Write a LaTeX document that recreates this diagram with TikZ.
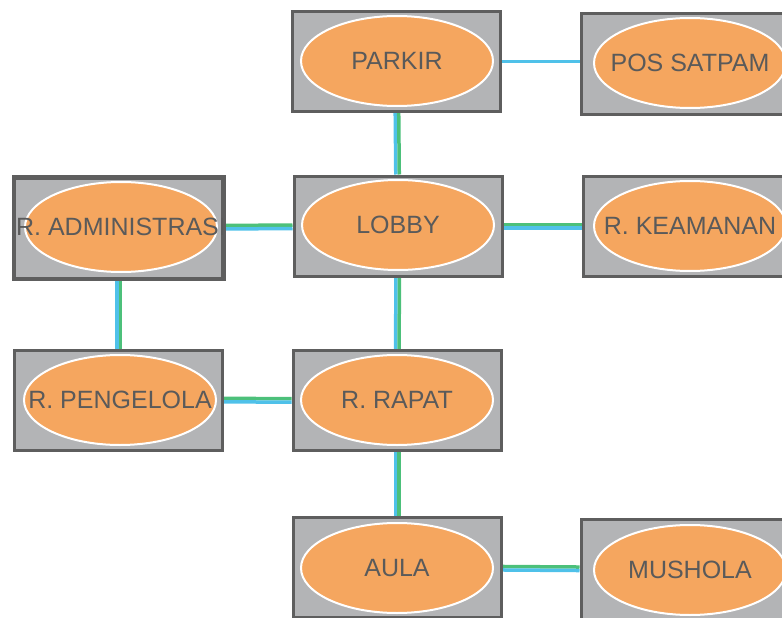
\documentclass[tikz,border=0pt]{standalone}
\usepackage{fontspec}
\setmainfont{Liberation Sans}
\usetikzlibrary{shapes.geometric,backgrounds}
\definecolor{abu}{HTML}{B3B4B6}
\definecolor{garis}{HTML}{5E5E5E}
\definecolor{oranye}{HTML}{F5A65F}
\definecolor{teks}{HTML}{5A5A5A}
\definecolor{biru}{HTML}{4FC1E9}
\definecolor{hijau}{HTML}{4CC07A}
\tikzset{
	kotak/.style={draw=garis, fill=abu, line width=3pt, minimum width=208pt, minimum height=100pt, inner sep=0pt},
	ruang/.style={ellipse, draw=white, fill=oranye, line width=2pt, minimum width=192pt, minimum height=90pt, inner sep=0pt, text=teks, font=\fontsize{25}{30}\selectfont,
		execute at begin node={\hbox to 0pt\bgroup\hss}, execute at end node={\hss\egroup}},
	kabel/.style={line width=3.5pt},
}
% sambungan ganda: hijau + biru
\newcommand{\jalurH}[2]{%
	\draw[kabel, hijau, transform canvas={yshift=1.75pt}] (#1) -- (#2);
	\draw[kabel, biru, transform canvas={yshift=-1.75pt}] (#1) -- (#2);}
\newcommand{\jalurV}[2]{%
	\draw[kabel, biru, transform canvas={xshift=-1.75pt}] (#1) -- (#2);
	\draw[kabel, hijau, transform canvas={xshift=1.75pt}] (#1) -- (#2);}
\begin{document}
\begin{tikzpicture}[x=1pt, y=1pt]
	\clip (0,0) rectangle (782,-618);

	% kotak ruang
	\node[kotak] (parkir) at (396.5,-61.5) {};
	\node[kotak] (satpam) at (685,-64) {};
	\node[kotak] (admin) at (118.5,-228) {};
	\node[kotak] (lobby) at (398,-226) {};
	\node[kotak] (keamanan) at (687,-226) {};
	\node[kotak] (pengelola) at (118.5,-400) {};
	\node[kotak] (rapat) at (397,-400.5) {};
	\node[kotak] (aula) at (397,-567.5) {};
	\node[kotak] (mushola) at (685,-569.5) {};

	% nama ruang
	\node[ruang] (parkirE) at (397,-61) {PARKIR};
	\node[ruang] (satpamE) at (690,-63) {POS SATPAM};
	\node[ruang] (adminE) at (121,-227) {R. ADMINISTRASI};
	\node[ruang] (lobbyE) at (398,-225) {LOBBY};
	\node[ruang] (keamananE) at (690,-226) {R. KEAMANAN};
	\node[ruang] (pengelolaE) at (120,-400) {R. PENGELOLA};
	\node[ruang] (rapatE) at (397,-400) {R. RAPAT};
	\node[ruang] (aulaE) at (397,-568) {AULA};
	\node[ruang] (musholaE) at (690,-570) {MUSHOLA};
	\draw[garis, line width=3pt] (admin.north west) rectangle (admin.south east);

	\begin{scope}[on background layer]
		\draw[kabel, biru] (parkir) -- (satpam |- parkir);
		\jalurV{parkir}{lobby}
		\jalurH{admin}{lobby}
		\jalurH{lobby}{keamanan}
		\jalurV{admin}{pengelola}
		\jalurV{lobby}{rapat}
		\jalurH{pengelola}{rapat}
		\jalurV{rapat}{aula}
		\jalurH{aula}{mushola}
	\end{scope}
\end{tikzpicture}
\end{document}
